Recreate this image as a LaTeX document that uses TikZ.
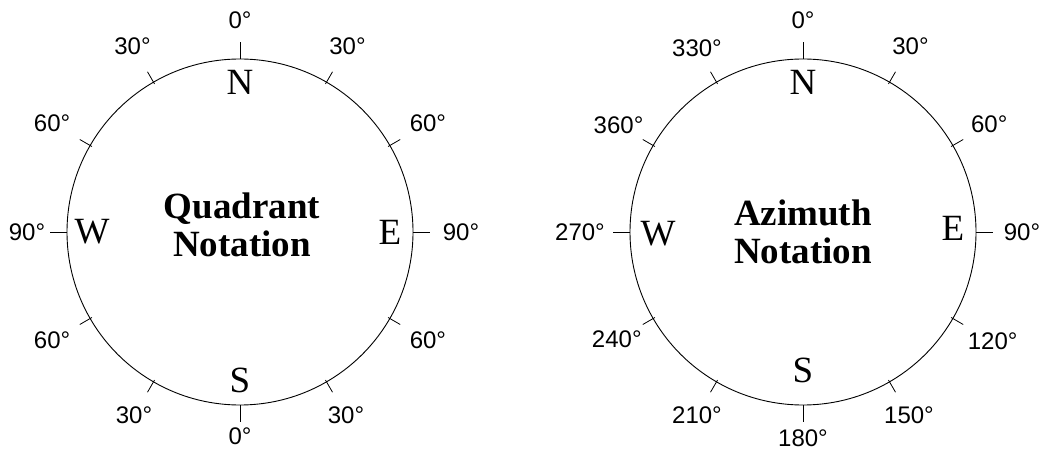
\documentclass[tikz,border=0pt]{standalone}
\usepackage{fontspec}
\setmainfont{Liberation Serif}
\newfontfamily\degfont{Liberation Sans}
\usetikzlibrary{calc}

\begin{document}
\begin{tikzpicture}[
  x=1pt, y=1pt,
  ring/.style={draw=black, line width=0.9pt},
  major/.style={draw=black, line width=0.9pt},
  minor/.style={draw=black, line width=0.8pt},
  deg/.style={font=\degfont\fontsize{24}{24}\selectfont, inner sep=0pt},
  pole/.style={font=\fontsize{37}{37}\selectfont, inner sep=0pt},
  title/.style={font=\bfseries\fontsize{37}{38}\selectfont, align=center,
                inner sep=0pt}
]
  \useasboundingbox (0,0) rectangle (1041,450);
  \coordinate (qc) at (240,218);
  \coordinate (ac) at (803,218);

  % quadrant circle
  \draw[ring] (qc) circle (173);
  \foreach \a in {0,90,180,270}
    \draw[major] ([shift={(\a:173)}]qc) -- ([shift={(\a:190)}]qc);
  \foreach \a in {30,60,120,150,210,240,300,330}
    \draw[minor] ([shift={(\a:171)}]qc) -- ([shift={(\a:185)}]qc);

  \node[pole] (qN) at ([shift={(0,150)}]qc)  {N};
  \node[pole] (qE) at ([shift={(150,0)}]qc)  {E};
  \node[pole] (qS) at ([shift={(0,-148)}]qc) {S};
  \node[pole] (qW) at ([shift={(-148,0)}]qc) {W};
  \node[title] (qt) at ([shift={(2,7)}]qc) {Quadrant\\Notation};

  \node[deg] (q90)  at ([shift={(90:212)}]qc)   {0°};
  \node[deg] (q60)  at ([shift={(60:215)}]qc)   {30°};
  \node[deg] (q30)  at ([shift={(30:217)}]qc)   {60°};
  \node[deg] (q0)   at ([shift={(0:221)}]qc)    {90°};
  \node[deg] (q-30) at ([shift={(-30:217)}]qc)  {60°};
  \node[deg] (q-60) at ([shift={(-60:212)}]qc)  {30°};
  \node[deg] (q-90) at ([shift={(-90:204)}]qc)  {0°};
  \node[deg] (q240) at ([shift={(240:212)}]qc)  {30°};
  \node[deg] (q210) at ([shift={(210:217)}]qc)  {60°};
  \node[deg] (q180) at ([shift={(180:213)}]qc)  {90°};
  \node[deg] (q150) at ([shift={(150:217)}]qc)  {60°};
  \node[deg] (q120) at ([shift={(120:215)}]qc)  {30°};

  % azimuth circle
  \draw[ring] (ac) circle (173);
  \foreach \a in {0,90,180,270}
    \draw[major] ([shift={(\a:173)}]ac) -- ([shift={(\a:190)}]ac);
  \foreach \a in {30,60,120,150,210,240,300,330}
    \draw[minor] ([shift={(\a:171)}]ac) -- ([shift={(\a:185)}]ac);

  \node[pole] (aN) at ([shift={(0,150)}]ac)  {N};
  \node[pole] (aE) at ([shift={(150,4)}]ac)  {E};
  \node[pole] (aS) at ([shift={(0,-138)}]ac) {S};
  \node[pole] (aW) at ([shift={(-145,-2)}]ac) {W};
  \node[title] (at) at ([shift={(0,0)}]ac) {Azimuth\\Notation};

  \node[deg] (a90)  at ([shift={(90:212)}]ac)   {0°};
  \node[deg] (a60)  at ([shift={(60:215)}]ac)   {30°};
  \node[deg] (a30)  at ([shift={(30:215)}]ac)   {60°};
  \node[deg] (a0)   at ([shift={(0:219)}]ac)    {90°};
  \node[deg] (a-30) at ([shift={(-30:219)}]ac)  {120°};
  \node[deg] (a-60) at ([shift={(-60:212)}]ac)  {150°};
  \node[deg] (a-90) at ([shift={(-90:206)}]ac)  {180°};
  \node[deg] (a240) at ([shift={(240:212)}]ac)  {210°};
  \node[deg] (a210) at ([shift={(210:215)}]ac)  {240°};
  \node[deg] (a180) at ([shift={(180:223)}]ac)  {270°};
  \node[deg] (a150) at ([shift={(150:213)}]ac)  {360°};
  \node[deg] (a120) at ([shift={(120:212)}]ac)  {330°};
\end{tikzpicture}
\end{document}
